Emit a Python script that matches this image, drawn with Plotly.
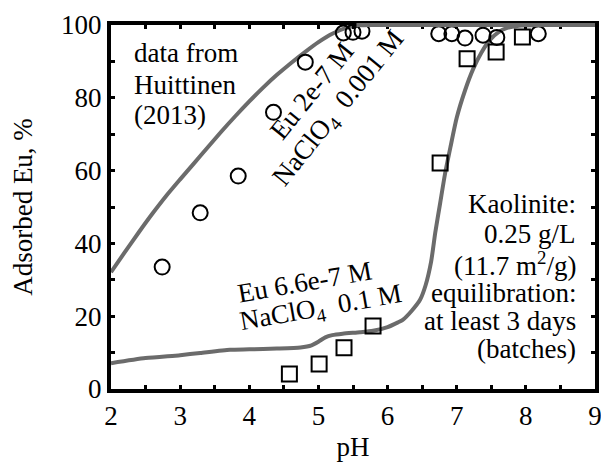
import plotly.graph_objects as go

# ---- data ----
circ_ph = [2.74, 3.29, 3.84, 4.35, 4.81, 5.36, 5.50, 5.63, 6.74, 6.93, 7.12, 7.38, 7.58, 8.18]
circ_ads = [33.5, 48.4, 58.5, 76.0, 89.8, 97.8, 98.0, 98.3, 97.6, 97.6, 96.4, 97.2, 96.6, 97.6]

sq_ph = [4.58, 5.01, 5.37, 5.79, 6.76, 7.15, 7.57, 7.95]
sq_ads = [4.1, 6.9, 11.3, 17.3, 62.1, 90.7, 92.6, 96.7]

fit1_ph = [2.0, 2.2, 2.4, 2.6, 2.8, 3.0, 3.2, 3.4, 3.6, 3.8, 4.0, 4.2, 4.4, 4.6, 4.8, 5.0,
           5.2, 5.4, 5.6, 5.8, 6.5, 7.5, 9.0]
fit1_ads = [32.1, 37.6, 43.0, 48.2, 53.1, 57.6, 62.0, 66.4, 70.8, 75.0, 79.0, 82.8, 86.3, 89.5,
            92.5, 95.3, 97.6, 99.2, 99.9, 100, 100, 100, 100]

fit2_ph = [2.0, 2.5, 3.0, 3.29, 3.72, 4.0, 4.4, 4.74, 4.90, 5.00, 5.10, 5.20, 5.35, 5.60, 5.79,
           6.00, 6.15, 6.22, 6.35, 6.47, 6.55, 6.63, 6.69, 6.76, 6.83, 6.91, 7.00, 7.12, 7.24,
           7.36, 7.48, 7.60, 7.73, 7.90, 8.20, 9.0]
fit2_ads = [7.1, 8.5, 9.3, 9.9, 10.8, 10.9, 11.1, 11.4, 12.0, 13.0, 14.2, 14.8, 15.2, 15.6, 16.0,
            17.0, 18.3, 19.0, 21.5, 24.5, 28.5, 35.0, 43.0, 51.0, 59.0, 66.5, 74.5, 82.0, 88.0,
            92.5, 95.9, 98.0, 99.2, 99.8, 100, 100]

x_ticks = [2, 3, 4, 5, 6, 7, 8, 9]
y_ticks = [0, 20, 40, 60, 80, 100]

FONT = "Liberation Serif"
FS = 27
GRAY = "#6b6b6b"

fig = go.Figure()
fig.add_trace(go.Scatter(x=fit1_ph, y=fit1_ads, mode="lines",
                         line=dict(color=GRAY, width=4, shape="spline", smoothing=0.6),
                         showlegend=False, hoverinfo="skip"))
fig.add_trace(go.Scatter(x=fit2_ph, y=fit2_ads, mode="lines",
                         line=dict(color=GRAY, width=4, shape="spline", smoothing=0.6),
                         showlegend=False, hoverinfo="skip"))
fig.add_trace(go.Scatter(x=circ_ph, y=circ_ads, mode="markers",
                         marker=dict(symbol="circle-open", size=15, color="black",
                                     line=dict(width=2, color="black")),
                         showlegend=False, cliponaxis=False))
fig.add_trace(go.Scatter(x=sq_ph, y=sq_ads, mode="markers",
                         marker=dict(symbol="square-open", size=15, color="black",
                                     line=dict(width=2, color="black")),
                         showlegend=False, cliponaxis=False))

# gray plateau of the curves drawn over the top frame line
fig.add_shape(type="line", xref="x", yref="paper", x0=5.55, x1=9, y0=1, y1=1,
              line=dict(color=GRAY, width=4), layer="above")

annos = []
# left note
for txt, y in [("data from", 92.4), ("Huittinen", 83.6), ("(2013)", 75.4)]:
    annos.append(dict(x=2.31, y=y, text=txt, xanchor="left", yanchor="middle", showarrow=False))
# right note
right_lines = ["Kaolinite:", "0.25 g/L", "(11.7 m<sup>2</sup>/g)", "equilibration:",
               "at least 3 days", "(batches)"]
right_y = [50.8, 42.6, 34.3, 26.4, 18.7, 11.0]
for txt, y in zip(right_lines, right_y):
    annos.append(dict(x=8.76, y=y, text=txt, xanchor="right", yanchor="middle", showarrow=False))
# rotated labels
annos.append(dict(x=4.90, y=81.9, text="Eu 2e-7 M", textangle=-51, showarrow=False,
                  xanchor="center", yanchor="middle"))
annos.append(dict(x=5.30, y=76.9, text="NaClO<sub>4</sub>  0.001 M", textangle=-51, showarrow=False,
                  xanchor="center", yanchor="middle"))
annos.append(dict(x=4.81, y=29.4, text="Eu 6.6e-7 M", textangle=-10, showarrow=False,
                  xanchor="center", yanchor="middle"))
annos.append(dict(x=5.04, y=22.0, text="NaClO<sub>4</sub>  0.1 M", textangle=-10, showarrow=False,
                  xanchor="center", yanchor="middle"))
for a in annos:
    a["font"] = dict(family=FONT, size=FS, color="black")

fig.update_layout(
    width=601, height=462,
    margin=dict(l=111, r=6, t=25, b=73),
    paper_bgcolor="white", plot_bgcolor="white",
    font=dict(family=FONT, size=FS, color="black"),
    annotations=annos,
    xaxis=dict(range=[2, 9], tickvals=x_ticks, ticktext=[str(v) for v in x_ticks],
               automargin=False, ticklabeloverflow="allow",
               showgrid=False, zeroline=False, showline=True, linecolor="black", linewidth=4,
               mirror="ticks", ticks="inside", ticklen=4, tickwidth=3, tickcolor="black",
               minor=dict(dtick=0.5, ticks="inside", ticklen=4, tickwidth=3, tickcolor="black"),
               title=dict(text="pH", standoff=8, font=dict(family=FONT, size=FS)),
               tickfont=dict(family=FONT, size=FS)),
    yaxis=dict(range=[0, 100], tickvals=y_ticks, ticktext=[str(v) for v in y_ticks],
               automargin=False, ticklabeloverflow="allow",
               showgrid=False, zeroline=False, showline=True, linecolor="black", linewidth=4,
               mirror="ticks", ticks="inside", ticklen=4, tickwidth=3, tickcolor="black",
               minor=dict(dtick=10, ticks="inside", ticklen=4, tickwidth=3, tickcolor="black"),
               title=dict(text="Adsorbed Eu, %", standoff=22, font=dict(family=FONT, size=FS)),
               tickfont=dict(family=FONT, size=FS)),
)

fig.write_html("out.html")
